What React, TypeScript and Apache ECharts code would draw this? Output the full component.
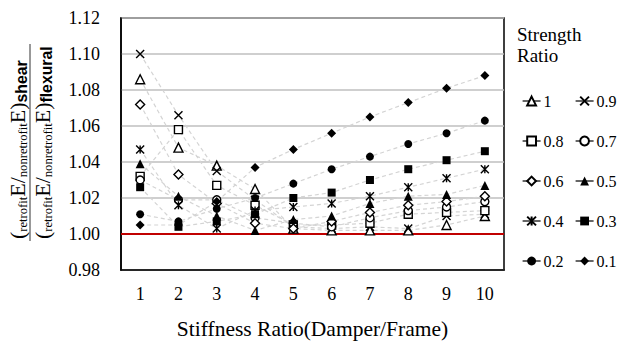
import React, { useEffect, useRef } from "react";
import * as echarts from "echarts";

const categories = ["1", "2", "3", "4", "5", "6", "7", "8", "9", "10"];
const seriesNames = ["1", "0.9", "0.8", "0.7", "0.6", "0.5", "0.4", "0.3", "0.2", "0.1"];

const sr10 = [1.086, 1.048, 1.038, 1.025, 1.003, 1.002, 1.002, 1.002, 1.005, 1.010];
const sr09 = [1.100, 1.066, 1.035, 1.019, 1.004, 1.003, 1.004, 1.003, 1.010, 1.011];
const sr08 = [1.032, 1.058, 1.027, 1.016, 1.005, 1.005, 1.006, 1.011, 1.012, 1.013];
const sr07 = [1.030, 1.019, 1.019, 1.009, 1.006, 1.004, 1.009, 1.013, 1.015, 1.018];
const sr06 = [1.072, 1.033, 1.017, 1.006, 1.003, 1.007, 1.012, 1.016, 1.018, 1.021];
const sr05 = [1.039, 1.021, 1.010, 1.002, 1.008, 1.010, 1.017, 1.021, 1.022, 1.027];
const sr04 = [1.047, 1.016, 1.003, 1.013, 1.015, 1.017, 1.021, 1.026, 1.031, 1.036];
const sr03 = [1.026, 1.004, 1.007, 1.011, 1.020, 1.023, 1.030, 1.036, 1.041, 1.046];
const sr02 = [1.011, 1.007, 1.014, 1.020, 1.028, 1.036, 1.043, 1.050, 1.056, 1.063];
const sr01 = [1.005, 1.005, 1.018, 1.037, 1.047, 1.056, 1.065, 1.073, 1.081, 1.088];

const allValues = [sr10, sr09, sr08, sr07, sr06, sr05, sr04, sr03, sr02, sr01];

const CROSS = "path://M0,0L10,10M0,10L10,0";
const STAR = "path://M0,0L10,10M0,10L10,0M5,0L5,10";

const markers: { symbol: string; filled: boolean; size: number }[] = [
  { symbol: "triangle", filled: false, size: 9 },
  { symbol: CROSS, filled: false, size: 8 },
  { symbol: "rect", filled: false, size: 8 },
  { symbol: "circle", filled: false, size: 8 },
  { symbol: "diamond", filled: false, size: 9 },
  { symbol: "triangle", filled: true, size: 9 },
  { symbol: STAR, filled: false, size: 8 },
  { symbol: "rect", filled: true, size: 8 },
  { symbol: "circle", filled: true, size: 8 },
  { symbol: "diamond", filled: true, size: 9 },
];

const SERIF = "Liberation Serif";
const SANS = "Liberation Sans";

export default function App() {
  const ref = useRef<HTMLDivElement>(null);
  useEffect(() => {
    if (!ref.current) return;
    const chart = echarts.init(ref.current, undefined, { renderer: "svg" });

    const B = 22, S = 12.6, T = 15.8;
    const rich = {
      b: { fontFamily: SERIF, fontSize: B, lineHeight: B + 2, verticalAlign: "middle", fill: "#000" },
      s: { fontFamily: SERIF, fontSize: S, lineHeight: S, verticalAlign: "bottom", fill: "#000" },
      t: { fontFamily: SANS, fontWeight: "bold", fontSize: T, lineHeight: T, verticalAlign: "bottom", fill: "#000" },
    };

    const series: any[] = seriesNames.map((name, i) => {
      const m = markers[i];
      const s: any = {
        name,
        type: "line",
        data: allValues[i],
        symbol: m.symbol,
        symbolSize: m.size,
        showAllSymbol: true,
        lineStyle: { color: "#d4d4d4", width: 1.2, type: [4, 3] },
        itemStyle: {
          color: m.filled ? "#000" : "#fff",
          borderColor: "#000",
          borderWidth: m.filled ? 0 : 1.4,
        },
        emphasis: { disabled: true },
        z: 3,
      };
      if (i === 0) {
        s.markLine = {
          silent: true,
          symbol: ["none", "none"],
          label: { show: false },
          lineStyle: { color: "#c00000", width: 2, type: "solid" },
          data: [{ yAxis: 1.0 }],
          z: 2,
        };
      }
      return s;
    });
    const legendCommon = {
      orient: "vertical",
      itemWidth: 18,
      itemHeight: 11,
      itemGap: 24,
      textStyle: { fontFamily: SERIF, fontSize: 16, color: "#000", padding: [0, 0, 0, -2] },
      lineStyle: { color: "#000", width: 1.2, type: "solid" },
      selectedMode: false,
    };
    chart.setOption({
      animation: false,
      grid: {
        left: 121,
        top: 18,
        right: 115,
        bottom: 68,
        show: true,
        borderColor: "#000",
        borderWidth: 1.5,
      },
      legend: [
        { ...legendCommon, left: 517, top: 88, data: ["1", "0.8", "0.6", "0.4", "0.2"] },
        { ...legendCommon, left: 570, top: 88, data: ["0.9", "0.7", "0.5", "0.3", "0.1"] },
      ],
      xAxis: {
        type: "category",
        data: categories,
        boundaryGap: true,
        axisLine: { lineStyle: { color: "#000", width: 1.5 } },
        axisTick: { alignWithLabel: true, inside: true, length: 4, lineStyle: { color: "#000" } },
        axisLabel: { fontFamily: SERIF, fontSize: 18, color: "#000", margin: 15 },
        name: "Stiffness Ratio(Damper/Frame)",
        nameLocation: "middle",
        nameGap: 48,
        nameTextStyle: { fontFamily: SERIF, fontSize: 21.5, color: "#000" },
      },
      yAxis: {
        type: "value",
        min: 0.98,
        max: 1.12,
        interval: 0.02,
        axisLine: { show: true, lineStyle: { color: "#000", width: 1.5 } },
        axisTick: { show: false },
        axisLabel: {
          fontFamily: SERIF,
          fontSize: 18,
          color: "#000",
          margin: 21,
          formatter: (v: number) => v.toFixed(2),
        },
        splitLine: { lineStyle: { color: "#bfbfbf", width: 1.5 } },
      },
      graphic: [
        {
          type: "text",
          left: 517,
          top: 24,
          style: {
            text: "Strength\nRatio",
            font: `19px "${SERIF}"`,
            lineHeight: 21,
            fill: "#000",
          },
        },
        {
          type: "text",
          x: 17,
          y: 239,
          rotation: Math.PI / 2,
          style: {
            text: "{b|(}{s|retrofit}{b|E/}{s|nonretrofit}{b|E)}{t|shear}",
            align: "left",
            verticalAlign: "middle",
            fill: "#000",
            rich,
          },
        },
        {
          type: "line",
          shape: { x1: 30, y1: 44, x2: 30, y2: 241 },
          style: { stroke: "#333", lineWidth: 1 },
        },
        {
          type: "text",
          x: 42,
          y: 239,
          rotation: Math.PI / 2,
          style: {
            text: "{b|(}{s|retrofit}{b|E/}{s|nonretrofit}{b|E)}{t|flexural}",
            align: "left",
            verticalAlign: "middle",
            fill: "#000",
            rich,
          },
        },
      ],
      series,
    });
    return () => chart.dispose();
  }, []);
  return (
    <div
      ref={ref}
      style={{ position: "fixed", left: 0, top: 0, width: 619, height: 345, background: "#fff" }}
    />
  );
}
